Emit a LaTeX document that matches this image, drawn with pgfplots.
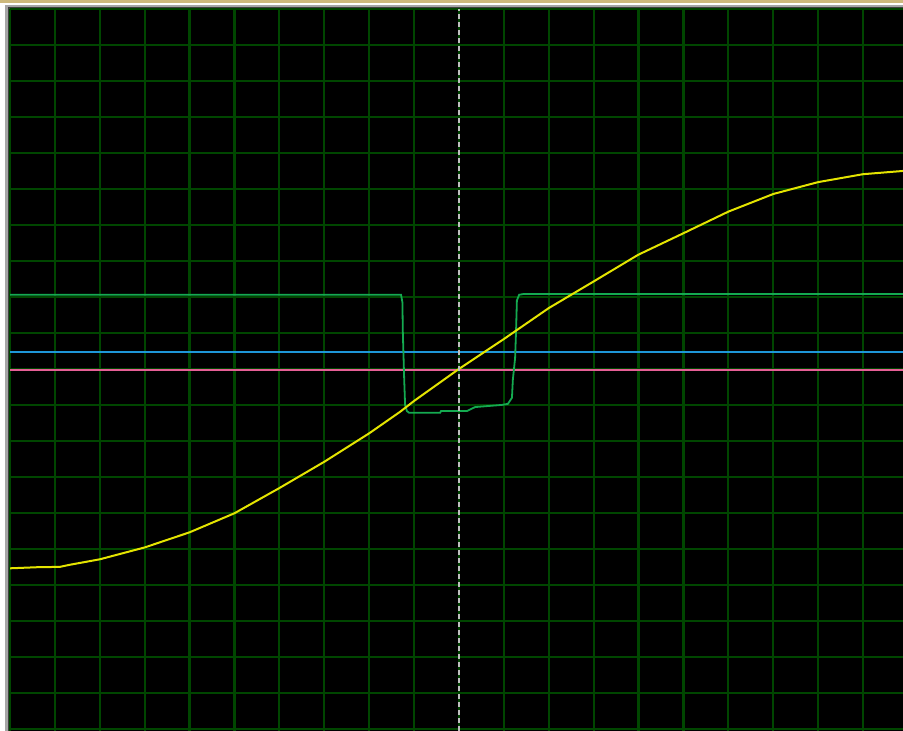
\documentclass[border=0pt]{standalone}
\usepackage{pgfplots}
\pgfplotsset{compat=1.18}
\definecolor{gridgreen}{RGB}{0,70,0}
\definecolor{scopeyellow}{RGB}{228,228,0}
\definecolor{scopegreen}{RGB}{20,170,80}
\definecolor{scopeblue}{RGB}{30,150,215}
\definecolor{scopepink}{RGB}{230,95,150}
\definecolor{bordertan}{RGB}{205,185,125}
\begin{document}
\begin{tikzpicture}
\fill[white] (-5pt,0) rectangle (446.5pt,365.5pt);
\fill[bordertan] (-5pt,364pt) rectangle (446.5pt,365.5pt);
\fill[black!35] (-2.5pt,0) rectangle (446.5pt,363pt);
\fill[black!75] (-1.2pt,0) rectangle (446.5pt,361.8pt);
\begin{axis}[
  at={(0,0)}, anchor=south west,
  scale only axis, width=446.5pt, height=361pt,
  xmin=0, xmax=19.89, ymin=-10.06, ymax=10,
  axis background/.style={fill=black},
  axis line style={draw=none},
  xtick={0,1,...,19}, ytick={-10,-9,...,10},
  xticklabels={}, yticklabels={},
  major tick length=0pt,
  grid=major,
  grid style={color=gridgreen, line width=1.1pt},
  clip=true,
]
\addplot[scopepink, line width=1pt] coordinates {(0,-0.03) (19.89,-0.03)};
\addplot[scopeblue, line width=1pt] coordinates {(0,0.48) (19.89,0.48)};
\addplot[scopegreen, line width=0.9pt] coordinates {
(0,2.06) (8.71,2.06) (8.74,1.85) (8.75,1.0) (8.78,-0.3) (8.80,-1.0)
(8.84,-1.17) (8.89,-1.22) (9.58,-1.22) (9.60,-1.17) (10.18,-1.17)
(10.36,-1.06) (10.96,-1.00) (11.09,-0.97) (11.18,-0.80) (11.20,-0.30)
(11.25,0.30) (11.27,1.00) (11.29,1.90) (11.34,2.06) (11.43,2.08) (19.89,2.08)};
\addplot[scopeyellow, line width=1pt] coordinates {
(0,-5.54) (0.6,-5.51) (1.11,-5.50) (1.34,-5.44) (2.0,-5.29) (3.0,-4.96)
(4.0,-4.54) (5.0,-4.01) (6.0,-3.31) (7.0,-2.58) (8.0,-1.79) (8.69,-1.19)
(9.0,-0.89) (10,0) (11,0.83) (12.0,1.69) (13.0,2.43) (13.99,3.17)
(15.0,3.77) (16.0,4.37) (17.0,4.86) (18.0,5.19) (19.0,5.41) (19.89,5.50)};
\addplot[white!75!black, line width=0.9pt, dash pattern=on 2.5pt off 1.5pt] coordinates {(10,-10.06) (10,10)};
\end{axis}
\pgfresetboundingbox
\useasboundingbox (-5pt,0) rectangle (446.5pt,365.5pt);
\end{tikzpicture}
\end{document}
